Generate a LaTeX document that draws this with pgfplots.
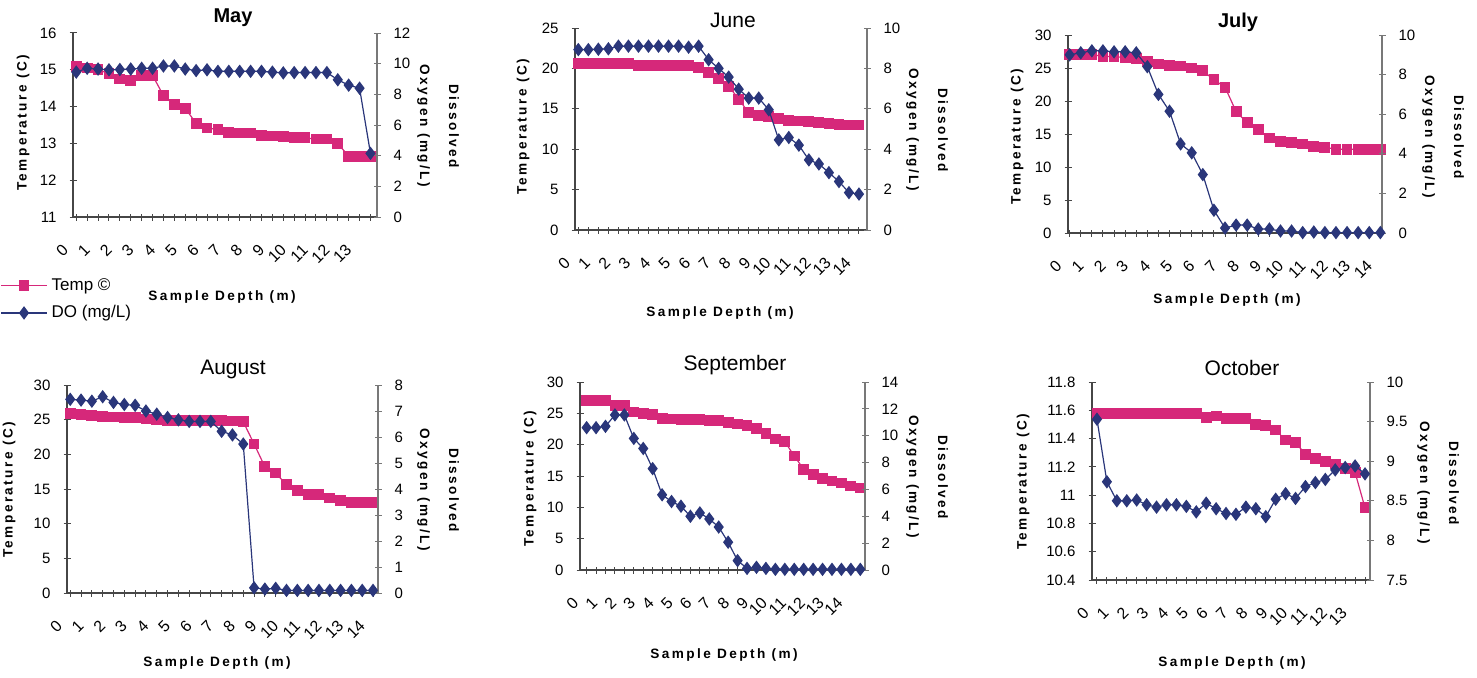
\documentclass[border=0pt]{standalone}
\usepackage{pgfplots}
\pgfplotsset{compat=1.18}
\usepackage{fontspec}
\setmainfont{Liberation Sans}
\newfontfamily\lblfont[LetterSpace=18]{Liberation Sans}
\definecolor{tempc}{RGB}{214,40,122}
\definecolor{doc}{RGB}{42,54,122}
\definecolor{axc}{RGB}{70,70,70}
\definecolor{axr}{RGB}{120,120,120}
\newcommand\lbl[1]{{\lblfont\bfseries\fontsize{6.8}{8}\selectfont #1}}
\pgfplotsset{
 base/.style={scale only axis, anchor=south west, clip=false,
   tick align=center, major tick length=3.5pt,
   tick style={axc, line width=0.5pt},
   axis line style={axc, line width=0.6pt},
   tick label style={font=\fontsize{7.5}{8}\selectfont},
   /pgf/number format/assume math mode=true},
 tempax/.style={base, axis x line*=bottom, axis y line*=left,
   xticklabel style={font=\fontsize{8}{9}\selectfont, xshift=-3pt, yshift=-11pt, rotate=45, anchor=east},
   yticklabel style={xshift=-3pt}},
 doax/.style={base, axis x line=none, axis y line*=right, xtick=\empty,
   axis line style={axr, line width=0.6pt}, tick style={axr, line width=0.5pt},
   yticklabel style={xshift=3pt}},
 tempplot/.style={tempc, line width=0.6pt, mark=square*, mark size=2.4pt},
 doplot/.style={doc, line width=0.6pt, mark=diamond*, mark size=2.9pt},
 /pgfplots/table/tbl/.style={row sep=\\, header=false, x expr=\coordindex, y index=0},
}
\begin{document}
\begin{tikzpicture}
\useasboundingbox (0,0) rectangle (738.5pt,338.5pt);
% ---------------- May ----------------
\begin{axis}[tempax, at={(36.5pt,230pt)}, width=152pt, height=92pt,
  xmin=-0.3, xmax=27.6, ymin=11, ymax=16, ytick={11,12,13,14,15,16},
  xtick={0,...,27},
  xticklabels={0,{},1,{},2,{},3,{},4,{},5,{},6,{},7,{},8,{},9,{},10,{},11,{},12,{},13,{}}]
\addplot[tempplot] table[tbl] {15.1\\15.05\\15.0\\14.9\\14.75\\14.72\\14.85\\14.85\\14.3\\14.05\\13.95\\13.55\\13.42\\13.38\\13.3\\13.28\\13.28\\13.22\\13.2\\13.18\\13.17\\13.15\\13.12\\13.12\\13.0\\12.65\\12.65\\12.65\\};
\end{axis}
\begin{axis}[doax, at={(36.5pt,230pt)}, width=152pt, height=92pt,
  xmin=-0.3, xmax=27.6, ymin=0, ymax=12, ytick={0,2,4,6,8,10,12},
  legend style={draw=none, fill=none, at={(-0.24,-0.31)}, anchor=north west,
    inner sep=0pt, row sep=2pt, font=\fontsize{8.5}{9}\selectfont},
  legend cell align=left,
  legend image code/.code={\draw[mark repeat=2,mark phase=2,#1] plot coordinates {(0pt,0pt) (11.5pt,0pt) (23pt,0pt)};}]
\addlegendimage{tempplot}
\addlegendentry{Temp ©}
\addplot[doplot] table[tbl] {9.45\\9.7\\9.65\\9.6\\9.62\\9.65\\9.7\\9.7\\9.85\\9.85\\9.65\\9.55\\9.6\\9.5\\9.5\\9.5\\9.5\\9.5\\9.45\\9.4\\9.42\\9.42\\9.42\\9.42\\8.95\\8.6\\8.4\\4.15\\};
\addlegendentry{DO (mg/L)}
\end{axis}
% ---------------- June ----------------
\begin{axis}[tempax, at={(287.5pt,223.5pt)}, width=146pt, height=101pt,
  xmin=-0.33, xmax=28.8, ymin=0, ymax=25, ytick={0,5,10,15,20,25},
  xtick={0,...,28},
  xticklabels={0,{},1,{},2,{},3,{},4,{},5,{},6,{},7,{},8,{},9,{},10,{},11,{},12,{},13,{},14}]
\addplot[tempplot] table[tbl] {20.6\\20.6\\20.6\\20.6\\20.6\\20.6\\20.4\\20.4\\20.4\\20.4\\20.4\\20.4\\20.1\\19.5\\18.8\\17.8\\16.2\\14.5\\14.2\\14.0\\13.8\\13.6\\13.5\\13.4\\13.3\\13.2\\13.1\\13.0\\13.0\\};
\end{axis}
\begin{axis}[doax, at={(287.5pt,223.5pt)}, width=146pt, height=101pt,
  xmin=-0.33, xmax=28.8, ymin=0, ymax=10, ytick={0,2,4,6,8,10}]
\addplot[doplot] table[tbl] {8.93\\8.93\\8.95\\8.97\\9.1\\9.1\\9.1\\9.1\\9.1\\9.1\\9.1\\9.05\\9.1\\8.43\\8.0\\7.57\\6.97\\6.53\\6.53\\5.95\\4.46\\4.58\\4.2\\3.47\\3.27\\2.84\\2.4\\1.85\\1.78\\};
\end{axis}
% ---------------- July ----------------
\begin{axis}[tempax, at={(534pt,222pt)}, width=157pt, height=99pt,
  xmin=-0.15, xmax=28.15, ymin=0, ymax=30, ytick={0,5,10,15,20,25,30},
  xtick={0,...,28},
  xticklabels={0,{},1,{},2,{},3,{},4,{},5,{},6,{},7,{},8,{},9,{},10,{},11,{},12,{},13,{},14}]
\addplot[tempplot] table[tbl] {27.0\\27.0\\27.0\\26.8\\26.7\\26.6\\26.5\\26.0\\25.6\\25.4\\25.3\\25.0\\24.6\\23.2\\22.1\\18.4\\16.7\\15.7\\14.4\\13.9\\13.7\\13.5\\13.1\\13.0\\12.7\\12.7\\12.7\\12.7\\12.6\\};
\end{axis}
\begin{axis}[doax, at={(534pt,222pt)}, width=157pt, height=99pt,
  xmin=-0.15, xmax=28.15, ymin=0, ymax=10, ytick={0,2,4,6,8,10}]
\addplot[doplot] table[tbl] {9.0\\9.1\\9.2\\9.2\\9.15\\9.15\\9.1\\8.4\\7.0\\6.15\\4.5\\4.05\\2.95\\1.15\\0.25\\0.4\\0.4\\0.2\\0.2\\0.1\\0.1\\0.02\\0.05\\0.02\\0.02\\0.02\\0.02\\0.02\\0.02\\};
\end{axis}
% ---------------- August ----------------
\begin{axis}[tempax, at={(33.5pt,42pt)}, width=155.5pt, height=104pt,
  xmin=-0.3, xmax=28.46, ymin=0, ymax=30, ytick={0,5,10,15,20,25,30},
  xtick={0,...,28},
  xticklabels={0,{},1,{},2,{},3,{},4,{},5,{},6,{},7,{},8,{},9,{},10,{},11,{},12,{},13,{},14}]
\addplot[tempplot] table[tbl] {25.9\\25.8\\25.6\\25.5\\25.4\\25.3\\25.3\\25.1\\25.0\\24.9\\24.9\\24.9\\24.9\\24.9\\24.9\\24.8\\24.7\\21.5\\18.2\\17.3\\15.6\\14.8\\14.2\\14.2\\13.7\\13.4\\13.1\\13.05\\13.05\\};
\end{axis}
\begin{axis}[doax, at={(33.5pt,42pt)}, width=155.5pt, height=104pt,
  xmin=-0.3, xmax=28.46, ymin=0, ymax=8, ytick={0,1,2,3,4,5,6,7,8}]
\addplot[doplot] table[tbl] {7.45\\7.42\\7.38\\7.55\\7.33\\7.25\\7.22\\7.0\\6.88\\6.75\\6.66\\6.6\\6.6\\6.6\\6.22\\6.08\\5.73\\0.2\\0.15\\0.18\\0.1\\0.1\\0.1\\0.1\\0.1\\0.1\\0.1\\0.1\\0.1\\};
\end{axis}
% ---------------- September ----------------
\begin{axis}[tempax, at={(290pt,53.5pt)}, width=142.5pt, height=94pt,
  xmin=-0.7, xmax=29.5, ymin=0, ymax=30, ytick={0,5,10,15,20,25,30},
  xtick={0,...,29},
  xticklabels={0,{},1,{},2,{},3,{},4,{},5,{},6,{},7,{},8,{},9,{},10,{},11,{},12,{},13,{},14,{}}]
\addplot[tempplot] table[tbl] {27.0\\27.0\\27.0\\26.2\\26.2\\25.2\\25.0\\24.8\\24.2\\24.1\\24.0\\24.0\\24.0\\23.9\\23.8\\23.6\\23.3\\23.0\\22.6\\21.8\\20.9\\20.5\\18.2\\16.1\\15.3\\14.6\\14.2\\13.9\\13.4\\13.1\\};
\end{axis}
\begin{axis}[doax, at={(290pt,53.5pt)}, width=142.5pt, height=94pt,
  xmin=-0.7, xmax=29.5, ymin=0, ymax=14, ytick={0,2,4,6,8,10,12,14}]
\addplot[doplot] table[tbl] {10.6\\10.6\\10.7\\11.55\\11.55\\9.8\\9.05\\7.55\\5.6\\5.1\\4.75\\4.0\\4.25\\3.8\\3.2\\2.07\\0.7\\0.12\\0.2\\0.12\\0.05\\0.05\\0.05\\0.05\\0.05\\0.05\\0.05\\0.05\\0.05\\0.05\\};
\end{axis}
% ---------------- October ----------------
\begin{axis}[tempax, at={(546pt,48.5pt)}, width=139pt, height=99pt,
  xmin=-0.5, xmax=27.5, ymin=10.4, ymax=11.8, ytick={10.4,10.6,10.8,11,11.2,11.4,11.6,11.8},
  xtick={0,...,27},
  xticklabels={0,{},1,{},2,{},3,{},4,{},5,{},6,{},7,{},8,{},9,{},10,{},11,{},12,{},13,{}}]
\addplot[tempplot] table[tbl] {11.58\\11.58\\11.58\\11.58\\11.58\\11.58\\11.58\\11.58\\11.58\\11.58\\11.58\\11.55\\11.56\\11.54\\11.54\\11.54\\11.5\\11.49\\11.46\\11.39\\11.37\\11.29\\11.26\\11.24\\11.22\\11.19\\11.16\\10.91\\};
\end{axis}
\begin{axis}[doax, at={(546pt,48.5pt)}, width=139pt, height=99pt,
  xmin=-0.5, xmax=27.5, ymin=7.5, ymax=10, ytick={7.5,8,8.5,9,9.5,10}]
\addplot[doplot] table[tbl] {9.53\\8.74\\8.5\\8.5\\8.51\\8.45\\8.42\\8.45\\8.45\\8.43\\8.36\\8.47\\8.4\\8.34\\8.33\\8.42\\8.4\\8.3\\8.52\\8.59\\8.53\\8.68\\8.73\\8.77\\8.89\\8.92\\8.94\\8.84\\};
\end{axis}
% ---------------- titles and labels ----------------
\begin{scope}[every node/.style={inner sep=0pt}]
\node[font=\bfseries\fontsize{10}{11}\selectfont] at (116.5pt,329.5pt) {May};
\node[font=\fontsize{10.5}{11}\selectfont] at (366.5pt,328.5pt) {June};
\node[font=\bfseries\fontsize{10}{11}\selectfont] at (619pt,327.5pt) {July};
\node[font=\fontsize{10.5}{11}\selectfont] at (116.5pt,154pt) {August};
\node[font=\fontsize{10.5}{11}\selectfont] at (367.5pt,156pt) {September};
\node[font=\fontsize{10.5}{11}\selectfont] at (621pt,154.5pt) {October};
\node at (111pt,190pt) {\lbl{Sample Depth (m)}};
\node at (360pt,182pt) {\lbl{Sample Depth (m)}};
\node at (613.5pt,188.5pt) {\lbl{Sample Depth (m)}};
\node at (108.5pt,7pt) {\lbl{Sample Depth (m)}};
\node at (362pt,11pt) {\lbl{Sample Depth (m)}};
\node at (616pt,7pt) {\lbl{Sample Depth (m)}};
\node[rotate=90] at (11.5pt,277pt) {\lbl{Temperature (C)}};
\node[rotate=90] at (261.5pt,275pt) {\lbl{Temperature (C)}};
\node[rotate=90] at (508.5pt,270pt) {\lbl{Temperature (C)}};
\node[rotate=90] at (4.5pt,93.5pt) {\lbl{Temperature (C)}};
\node[rotate=90] at (265pt,99pt) {\lbl{Temperature (C)}};
\node[rotate=90] at (511.5pt,97.5pt) {\lbl{Temperature (C)}};
\node[rotate=-90, align=center] at (219pt,275.5pt) {\lbl{Dissolved}\\[2.5pt]\lbl{Oxygen (mg/L)}};
\node[rotate=-90, align=center] at (463.5pt,273.5pt) {\lbl{Dissolved}\\[2.5pt]\lbl{Oxygen (mg/L)}};
\node[rotate=-90, align=center] at (721.5pt,270pt) {\lbl{Dissolved}\\[2.5pt]\lbl{Oxygen (mg/L)}};
\node[rotate=-90, align=center] at (219pt,93.5pt) {\lbl{Dissolved}\\[2.5pt]\lbl{Oxygen (mg/L)}};
\node[rotate=-90, align=center] at (463.5pt,100pt) {\lbl{Dissolved}\\[2.5pt]\lbl{Oxygen (mg/L)}};
\node[rotate=-90, align=center] at (719pt,97pt) {\lbl{Dissolved}\\[2.5pt]\lbl{Oxygen (mg/L)}};
\end{scope}
\end{tikzpicture}
\end{document}
